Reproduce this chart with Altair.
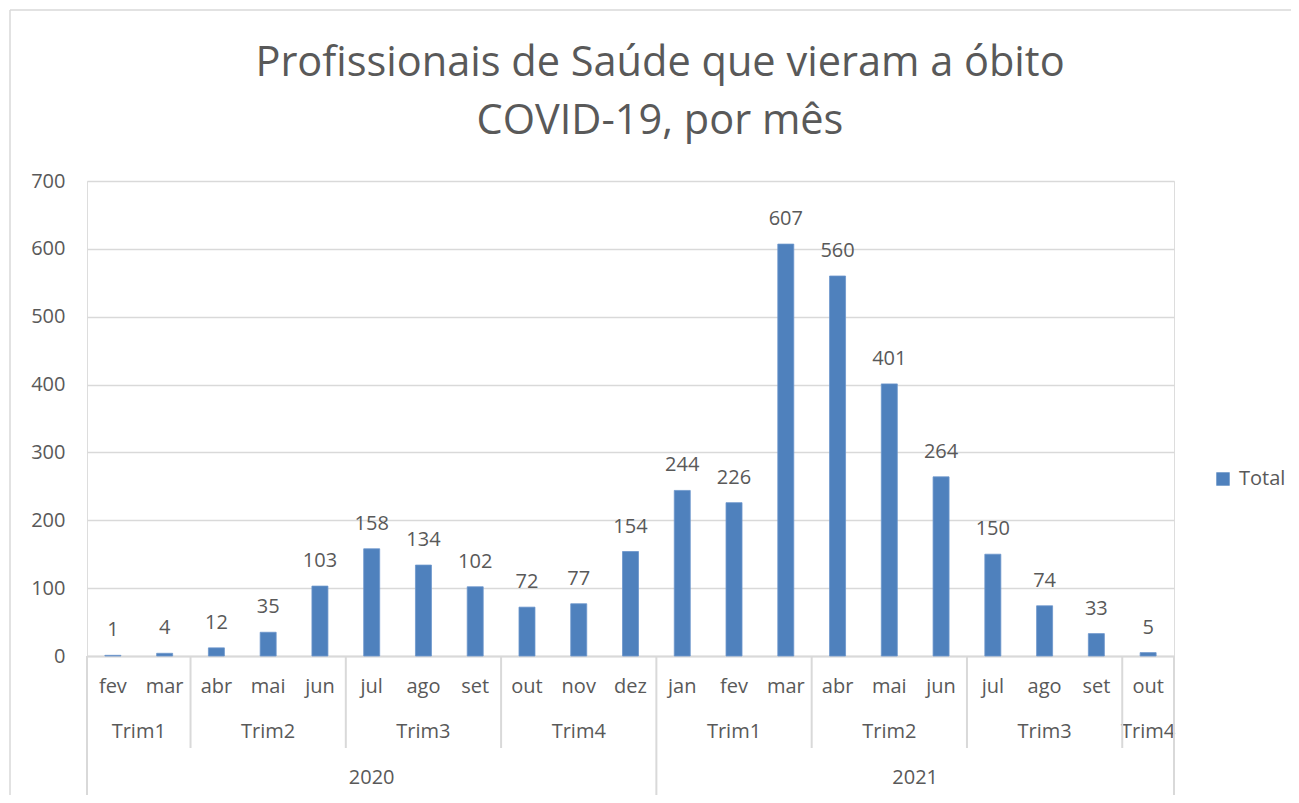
import altair as alt
import pandas as pd

years = ["2020"] * 11 + ["2021"] * 10
quarters = ["Trim1", "Trim1", "Trim2", "Trim2", "Trim2", "Trim3", "Trim3", "Trim3", "Trim4", "Trim4", "Trim4",
            "Trim1", "Trim1", "Trim1", "Trim2", "Trim2", "Trim2", "Trim3", "Trim3", "Trim3", "Trim4"]
months = ["fev", "mar", "abr", "mai", "jun", "jul", "ago", "set", "out", "nov", "dez",
          "jan", "fev", "mar", "abr", "mai", "jun", "jul", "ago", "set", "out"]
totals = [1, 4, 12, 35, 103, 158, 134, 102, 72, 77, 154,
          244, 226, 607, 560, 401, 264, 150, 74, 33, 5]
series_name = "Total"
title_lines = ["Profissionais de Saúde que vieram a óbito", "COVID-19, por mês"]

FONT = "Open Sans"
TXT = "#595959"
GRID = "#D9D9D9"
BLUE = "#4F81BD"

n = len(months)
df = pd.DataFrame({"year": years, "quarter": quarters, "month": months, "total": totals})
df["idx"] = range(n)
df["pos"] = df["idx"] + 0.5
df["series"] = series_name

# quarter groups
df["qkey"] = df["year"] + "-" + df["quarter"]
qg = df.groupby("qkey", sort=False).agg(quarter=("quarter", "first"), start=("idx", "min"), end=("idx", "max")).reset_index()
qg["center"] = (qg["start"] + qg["end"] + 1) / 2
yg = df.groupby("year", sort=False).agg(start=("idx", "min"), end=("idx", "max")).reset_index()
yg["center"] = (yg["start"] + yg["end"] + 1) / 2

year_bounds = sorted(set(list(yg["start"]) + [n]))
quarter_bounds = sorted(set(qg["start"]) - set(year_bounds))
yb = pd.DataFrame({"b": year_bounds})
qb = pd.DataFrame({"b": quarter_bounds})
tdf = pd.DataFrame({"line1": [title_lines[0]], "line2": [title_lines[1]]})

W, H = 1087, 475
xscale = alt.Scale(domain=[0, n], nice=False, zero=False, padding=0)
yscale = alt.Scale(domain=[0, 700], nice=False)

base = alt.Chart(df)

bars = base.mark_bar(width=16, color=BLUE, stroke="#6C96CC", strokeWidth=0.8).encode(
    x=alt.X("pos:Q", scale=xscale,
            axis=alt.Axis(labels=False, ticks=False, grid=False, title=None,
                          domainColor=GRID, domainWidth=2)),
    y=alt.Y("total:Q", scale=yscale,
            axis=alt.Axis(values=list(range(0, 701, 100)), title=None, domain=False, ticks=False,
                          labelFont=FONT, labelFontSize=20, labelColor=TXT, labelPadding=22,
                          gridColor=GRID, gridWidth=1.5)),
    color=alt.Color("series:N", scale=alt.Scale(range=[BLUE]),
                    legend=alt.Legend(title=None, orient="none", legendX=1126, legendY=288,
                                      symbolType="square", symbolSize=180, symbolStrokeWidth=0,
                                      labelFont=FONT, labelFontSize=20, labelColor=TXT, labelOffset=6)),
)

labels = base.mark_text(font=FONT, fontSize=20, color=TXT, baseline="alphabetic", dy=-19).encode(
    x=alt.X("pos:Q", scale=xscale), y=alt.Y("total:Q", scale=yscale), text="total:Q")

month_txt = base.mark_text(font=FONT, fontSize=20, color=TXT, baseline="middle").encode(
    x=alt.X("pos:Q", scale=xscale), y=alt.value(H + 31), text="month:N")

quarter_txt = alt.Chart(qg).mark_text(font=FONT, fontSize=20, color=TXT, baseline="middle").encode(
    x=alt.X("center:Q", scale=xscale), y=alt.value(H + 76), text="quarter:N")

year_txt = alt.Chart(yg).mark_text(font=FONT, fontSize=20, color=TXT, baseline="middle").encode(
    x=alt.X("center:Q", scale=xscale), y=alt.value(H + 122), text="year:N")

q_rules = alt.Chart(qb).mark_rule(color=GRID, strokeWidth=2).encode(
    x=alt.X("b:Q", scale=xscale), y=alt.value(H), y2=alt.value(H + 92))
y_rules = alt.Chart(yb).mark_rule(color=GRID, strokeWidth=2).encode(
    x=alt.X("b:Q", scale=xscale), y=alt.value(H), y2=alt.value(H + 141))

frame_top = alt.Chart(df.head(1)).mark_rule(color=GRID, strokeWidth=1.5).encode(
    x=alt.value(-77), x2=alt.value(W + 140), y=alt.value(-171))
frame_left = alt.Chart(df.head(1)).mark_rule(color=GRID, strokeWidth=1.5).encode(
    x=alt.value(-77), y=alt.value(-171), y2=alt.value(H + 160))

title1 = alt.Chart(tdf).mark_text(font=FONT, fontSize=41.5, color=TXT, baseline="middle", align="center").encode(
    x=alt.value(573), y=alt.value(-117), text="line1:N")
title2 = alt.Chart(tdf).mark_text(font=FONT, fontSize=41.5, color=TXT, baseline="middle", align="center").encode(
    x=alt.value(573), y=alt.value(-59), text="line2:N")

chart = alt.layer(
    frame_top, frame_left, bars, labels, month_txt, quarter_txt, year_txt, q_rules, y_rules, title1, title2
).properties(
    width=W, height=H,
    autosize=alt.AutoSizeParams(type="none"),
    padding={"left": 79, "top": 173, "right": 117, "bottom": 139},
).configure_view(stroke=None).configure(background="white")

chart.save("out.html", embed_options={"renderer": "svg", "actions": False})
